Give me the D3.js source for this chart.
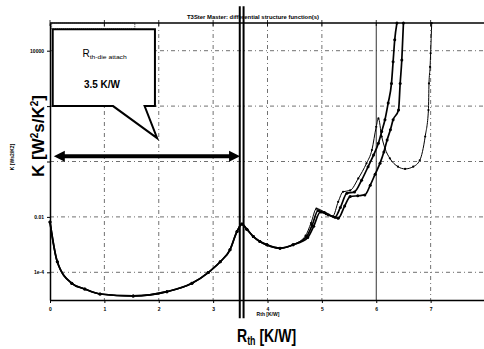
<!DOCTYPE html>
<html><head><meta charset="utf-8">
<script src="https://cdn.jsdelivr.net/npm/d3@7"></script>
<style>body{margin:0;background:#fff}svg{display:block}text{font-family:"Liberation Sans",Arial,sans-serif}</style>
</head><body>
<svg id="c" width="484" height="349"></svg>
<script>
// ---- data ----
const baseRth = [0, 0.134, 0.40, 0.64, 0.92, 1.53, 2.15, 2.61, 2.91, 3.13, 3.31, 3.44, 3.53, 3.62, 3.74, 3.86, 3.99, 4.23, 4.47];
const baseK   = [6.5e-3, 2.4e-4, 4e-5, 2.5e-5, 1.65e-5, 1.4e-5, 2e-5, 4e-5, 9.8e-5, 2.4e-4, 6.5e-4, 3e-3, 5.5e-3, 3.6e-3, 1.95e-3, 1.3e-3, 9.8e-4, 7.4e-4, 9.8e-4];

const s1Rth = [4.72, 4.82, 4.93, 5.08, 5.24, 5.34, 5.46, 5.60, 5.73, 5.85, 5.95, 6.04, 6.10, 6.16, 6.22, 6.28, 6.31, 6.34, 6.38];
const s1K   = [1.95e-3, 5e-3, 1.7e-2, 1.3e-2, 9.8e-3, 2.2e-2, 0.071, 0.08, 0.21, 0.65, 1.7, 4.6, 12, 32, 130, 660, 4000, 2.5e4, 1e5];

const s2Rth = [4.74, 4.85, 4.97, 5.12, 5.30, 5.42, 5.52, 5.66, 5.79, 5.89, 5.98, 6.07, 6.14, 6.20, 6.26, 6.31, 6.41, 6.44, 6.47, 6.50];
const s2K   = [1.8e-3, 4.6e-3, 1.5e-2, 1.2e-2, 8.9e-3, 2.5e-2, 0.054, 0.058, 0.062, 0.14, 0.35, 0.87, 2.2, 6, 14, 32, 72, 660, 4600, 1e5];

const s3Rth = [4.70, 4.80, 4.90, 5.05, 5.20, 5.30, 5.39, 5.52, 5.67, 5.82, 5.92, 6.00, 6.04, 6.10, 6.16, 6.25, 6.40, 6.53, 6.68, 6.80, 6.90, 6.96, 6.97, 6.99, 7.00, 7.02];
const s3K   = [2.1e-3, 6e-3, 2e-2, 1.5e-2, 1.05e-2, 3.5e-2, 0.081, 0.09, 0.245, 0.86, 2.6, 18, 36, 8, 3.0, 1.3, 0.65, 0.54, 0.65, 1.1, 8, 72, 660, 2600, 8100, 1e5];

const xTicks = [0, 1, 2, 3, 4, 5, 6, 7];
const yTicks = [1e-4, 1e-2, 1, 1e2, 1e4];
const yTickLabels = ["1e-4", "0.01", "", "", "10000"];

const title = "T3Ster Master: differential structure function(s)";
const dieAttachRth = 3.5;

// ---- chart ----
const svg = d3.select("#c");
const x = d3.scaleLinear().domain([0, 8]).range([50, 485]);
const y = d3.scaleLog().domain([1e-5, 1e5]).range([300, 23]);

const zip = (a, b) => a.map((v, i) => [v, b[i]]);
const base = zip(baseRth, baseK);
const s1 = base.concat(zip(s1Rth, s1K));
const s2 = base.concat(zip(s2Rth, s2K));
const s3 = base.concat(zip(s3Rth, s3K));

// gridlines
const grid = svg.append("g");
grid.selectAll("line.h").data(yTicks).join("line")
  .attr("x1", x(0)).attr("x2", x(8)).attr("y1", d => y(d)).attr("y2", d => y(d))
  .attr("stroke", "#333").attr("stroke-width", 0.7).attr("stroke-dasharray", "4,3,1,3");
grid.selectAll("line.v").data(xTicks.slice(1)).join("line")
  .attr("x1", d => x(d)).attr("x2", d => x(d)).attr("y1", y(1e5)).attr("y2", y(1e-5))
  .attr("stroke", "#333").attr("stroke-width", d => d === 6 ? 1 : 0.7)
  .attr("stroke-dasharray", d => d === 6 ? null : "4,3,1,3");

// top border + top ticks
svg.append("line").attr("x1", x(0)).attr("x2", x(8)).attr("y1", y(1e5)).attr("y2", y(1e5))
  .attr("stroke", "#000").attr("stroke-width", 1.5);
svg.append("g").selectAll("line").data(xTicks).join("line")
  .attr("x1", d => x(d)).attr("x2", d => x(d)).attr("y1", y(1e5) - 3).attr("y2", y(1e5) + 3)
  .attr("stroke", "#000").attr("stroke-width", 0.8);

// axes
const xa = svg.append("g").attr("transform", `translate(0,${y(1e-5)})`)
  .call(d3.axisBottom(x).tickValues(xTicks).tickFormat(d3.format("d")).tickSize(3).tickSizeOuter(0));
xa.select(".domain").attr("stroke-width", 1.5);
xa.selectAll("text").attr("font-size", 5).attr("font-weight", "bold").attr("dy", "0.9em");
const ya = svg.append("g").attr("transform", `translate(${x(0)},0)`)
  .call(d3.axisLeft(y).tickValues(yTicks).tickFormat((d, i) => yTickLabels[i]).tickSize(3).tickSizeOuter(0));
ya.select(".domain").attr("stroke-width", 1.5);
ya.selectAll("text").attr("font-size", 5).attr("font-weight", "bold").attr("x", -6);

// curves
const line = d3.line().x(d => x(d[0])).y(d => y(d[1])).curve(d3.curveMonotoneX);
const series = [
  {d: s3, w: 1.0, r: 1.1},
  {d: s2, w: 1.7, r: 1.5},
  {d: s1, w: 1.7, r: 1.5}
];
series.forEach(s => {
  svg.append("path").datum(s.d).attr("d", line).attr("fill", "none")
    .attr("stroke", "#000").attr("stroke-width", s.w).attr("stroke-linejoin", "round");
  svg.append("g").selectAll("circle").data(s.d).join("circle")
    .attr("cx", d => x(d[0])).attr("cy", d => y(d[1])).attr("r", s.r).attr("fill", "#000");
});

// title
svg.append("text").attr("x", 253).attr("y", 19).attr("text-anchor", "middle")
  .attr("font-size", 5.5).attr("font-weight", "bold").attr("textLength", 132)
  .attr("lengthAdjust", "spacingAndGlyphs").text(title);

// small axis titles
svg.append("text").attr("transform", "translate(14,157) rotate(-90)").attr("text-anchor", "middle")
  .attr("font-size", 5).attr("font-weight", "bold").text("K [Ws2/K2]");
svg.append("text").attr("x", 268).attr("y", 315.5).attr("text-anchor", "middle")
  .attr("font-size", 5).attr("font-weight", "bold").text("Rth  [K/W]");

// big axis titles
const kl = svg.append("text").attr("transform", "translate(44,136) rotate(-90)").attr("text-anchor", "middle")
  .attr("font-size", 17).attr("font-weight", "bold");
kl.append("tspan").text("K [W");
kl.append("tspan").attr("font-size", 10).attr("dy", -6).text("2");
kl.append("tspan").attr("dy", 6).text("s/K");
kl.append("tspan").attr("font-size", 10).attr("dy", -6).text("2");
kl.append("tspan").attr("dy", 6).text("]");

const rl = svg.append("g").attr("transform", "translate(237,341.5) scale(0.74,1)")
  .append("text").attr("font-size", 19).attr("font-weight", "bold");
rl.append("tspan").text("R");
rl.append("tspan").attr("font-size", 12).attr("dy", 3).text("th");
rl.append("tspan").attr("dy", -3).text(" [K/W]");

// legend box fragment behind callout
svg.append("rect").attr("x", x(0.03)).attr("y", 23).attr("width", x(1.56) - x(0.03)).attr("height", 6)
  .attr("fill", "none").attr("stroke", "#000").attr("stroke-width", 0.8).attr("stroke-dasharray", "1,1");

// callout
const bx0 = x(0.05), bx1 = x(1.93), by0 = y(6e4), by1 = y(100);
const px0 = x(1.16), px1 = x(1.74), tipX = x(1.97), tipY = y(7);
svg.append("path")
  .attr("d", `M${bx0},${by0}H${bx1}V${by1}H${px1}L${tipX},${tipY}L${px0},${by1}H${bx0}Z`)
  .attr("fill", "#fff").attr("stroke", "#000").attr("stroke-width", 2).attr("stroke-linejoin", "miter");
const ct = svg.append("text").attr("x", 82.5).attr("y", 57).attr("font-size", 10);
ct.append("tspan").text("R");
ct.append("tspan").attr("font-size", 6).attr("dy", 2).attr("textLength", 37)
  .attr("lengthAdjust", "spacingAndGlyphs").text("th-die attach");
svg.append("text").attr("x", 102).attr("y", 87.5).attr("text-anchor", "middle")
  .attr("font-size", 10).attr("font-weight", "bold").attr("textLength", 36)
  .attr("lengthAdjust", "spacingAndGlyphs").text(dieAttachRth + " K/W");

// double vertical marker lines
[dieAttachRth - 0.01, dieAttachRth + 0.06].forEach(v => {
  svg.append("line").attr("x1", x(v)).attr("x2", x(v)).attr("y1", y(4e5)).attr("y2", y(2.2e-6))
    .attr("stroke", "#000").attr("stroke-width", 2);
});

// double-headed arrow
const ay = y(1.55), ax0 = x(0.07), ax1 = x(dieAttachRth - 0.005);
svg.append("line").attr("x1", ax0 + 9).attr("x2", ax1 - 9).attr("y1", ay).attr("y2", ay)
  .attr("stroke", "#000").attr("stroke-width", 4);
svg.append("path").attr("d", `M${ax0},${ay}L${ax0 + 11},${ay - 5.5}L${ax0 + 11},${ay + 5.5}Z`).attr("fill", "#000");
svg.append("path").attr("d", `M${ax1},${ay}L${ax1 - 11},${ay - 5.5}L${ax1 - 11},${ay + 5.5}Z`).attr("fill", "#000");
</script>
</body></html>
